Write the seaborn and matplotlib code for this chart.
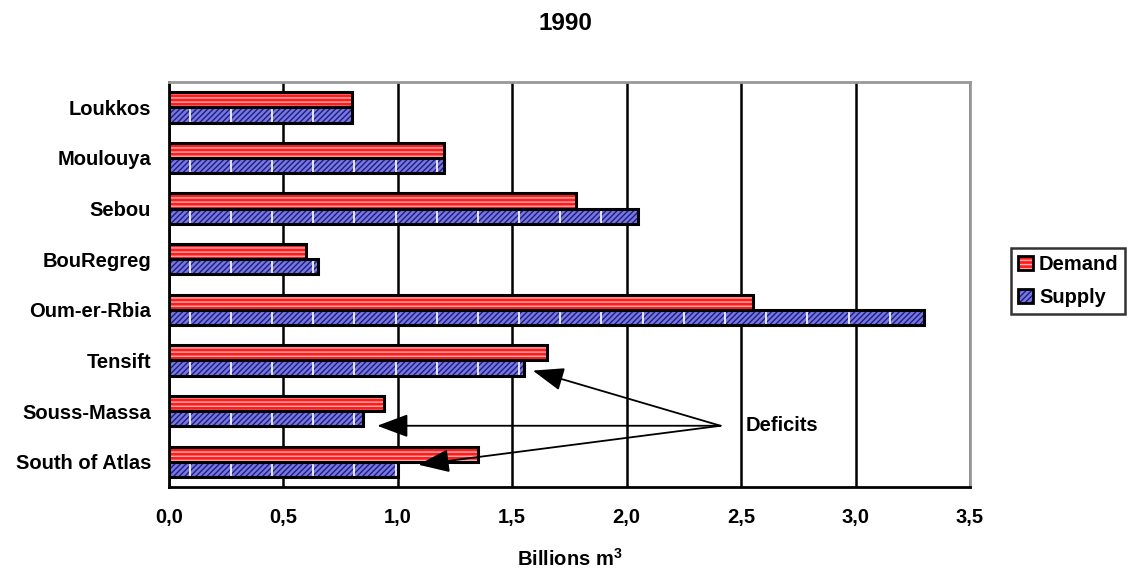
import matplotlib
matplotlib.use("Agg")
import matplotlib.pyplot as plt
import matplotlib.patches as mpatches
from matplotlib.legend_handler import HandlerTuple
from matplotlib.ticker import MultipleLocator, FixedLocator, FuncFormatter
import seaborn as sns
import pandas as pd
import numpy as np

basins = ["Loukkos", "Moulouya", "Sebou", "BouRegreg", "Oum-er-Rbia",
          "Tensift", "Souss-Massa", "South of Atlas"]
demand = [0.80, 1.20, 1.78, 0.60, 2.55, 1.65, 0.94, 1.35]
supply = [0.80, 1.20, 2.05, 0.65, 3.30, 1.55, 0.85, 1.00]
series = ["Demand", "Supply"]

sns.set_theme(style="white")
plt.rcParams["font.family"] = ["Liberation Sans", "DejaVu Sans"]
plt.rcParams["hatch.linewidth"] = 1.0
for key in ["text.color", "axes.labelcolor", "xtick.color", "ytick.color"]:
    plt.rcParams[key] = "black"

FS = 14.5

df = pd.DataFrame({
    "basin": basins * 2,
    "value": demand + supply,
    "series": [series[0]] * len(basins) + [series[1]] * len(basins),
})

fig = plt.figure(figsize=(11.31, 5.70), dpi=100)
ax = fig.add_axes([0.1494, 0.1456, 0.7082, 0.7105])

sns.barplot(data=df, x="value", y="basin", hue="series", order=basins,
            hue_order=series, orient="h", width=0.6, dodge=True,
            palette=["#ff2020", "#6a6ad0"], legend=False, ax=ax,
            saturation=1, errorbar=None)

styles = {
    "Demand": dict(face="#ff1c1c", hatch="----", hcolor="#ffb0b0"),
    "Supply": dict(face="#7878dc", hatch="//////", hcolor="#1c1c88"),
}

bars = list(ax.patches)
n = len(basins)
for i, p in enumerate(bars):
    name = series[i // n]
    st = styles[name]
    p.set_facecolor(st["face"])
    p.set_edgecolor(st["hcolor"])
    p.set_hatch(st["hatch"])
    p.set_linewidth(0)
    x0, y0 = p.get_xy()
    w, h = p.get_width(), p.get_height()
    if name == "Supply":
        # light vertical streaks of the fill texture
        streaks = ax.vlines(np.arange(0.09, w, 0.18), y0, y0 + h,
                            colors="white", linewidth=1.2, zorder=p.get_zorder() + 0.05)
        streaks.set_clip_path(p)
    # black outline on top of the textured fill
    ax.add_patch(mpatches.Rectangle((x0, y0), w, h, fill=False, edgecolor="black",
                                    linewidth=2.2, zorder=p.get_zorder() + 0.1))

ax.set_xlim(0, 3.5)
ax.set_ylim(len(basins) - 0.5, -0.5)
ax.xaxis.set_major_locator(MultipleLocator(0.5))
ax.xaxis.set_major_formatter(FuncFormatter(lambda v, _: f"{v:.1f}".replace(".", ",")))
ax.grid(axis="x", color="black", linewidth=1.8)
ax.set_axisbelow(True)

ax.yaxis.set_minor_locator(FixedLocator([k - 0.5 for k in range(len(basins) + 1)]))
ax.tick_params(axis="y", which="major", length=0, pad=13)
ax.tick_params(axis="y", which="minor", length=12, width=1.8, direction="inout", color="black")
ax.tick_params(axis="x", which="major", length=12, width=1.8, direction="inout",
               color="black", pad=9)

for lbl in ax.get_yticklabels() + ax.get_xticklabels():
    lbl.set_fontweight("bold")
    lbl.set_fontsize(FS)

for side in ["left", "bottom"]:
    ax.spines[side].set_color("black")
    ax.spines[side].set_linewidth(2)
for side in ["top", "right"]:
    ax.spines[side].set_color("#999999")
    ax.spines[side].set_linewidth(2)

ax.set_ylabel("")
ax.set_xlabel("Billions m$^\\mathregular{3}$", fontsize=FS, fontweight="bold", labelpad=15)

fig.text(0.5, 0.958, "1990", ha="center", va="center", fontsize=17.5, fontweight="bold")

# Deficit annotations
origin = (2.41, 6.29)
ax.text(2.52, 6.29, "Deficits", ha="left", va="center", fontsize=FS, fontweight="bold")
for tip in [(1.59, 5.2), (0.91, 6.29), (1.09, 7.06)]:
    ax.annotate("", xy=tip, xytext=origin,
                arrowprops=dict(arrowstyle="-|>,head_length=1.6,head_width=0.6",
                                color="black", lw=1.3, shrinkA=0, shrinkB=0))

# legend swatches: textured fill with a black outline, drawn on top of each other
handles = []
for s in series:
    fill = mpatches.Patch(facecolor=styles[s]["face"], edgecolor=styles[s]["hcolor"],
                          hatch=styles[s]["hatch"], linewidth=0)
    outline = mpatches.Patch(facecolor="none", edgecolor="black", linewidth=2)
    handles.append((fill, outline))
leg = fig.legend(handles=handles, labels=series, loc="center left",
                 bbox_to_anchor=(0.894, 0.507),
                 handler_map={tuple: HandlerTuple(ndivide=1, pad=0)},
                 frameon=True, fancybox=False, edgecolor="black", fontsize=FS,
                 handlelength=0.75, handleheight=0.75, handletextpad=0.3,
                 borderpad=0.33, labelspacing=0.7, borderaxespad=0)
leg.get_frame().set_linewidth(1.8)
for t in leg.get_texts():
    t.set_fontweight("bold")

fig.savefig("out.png", dpi=100)
